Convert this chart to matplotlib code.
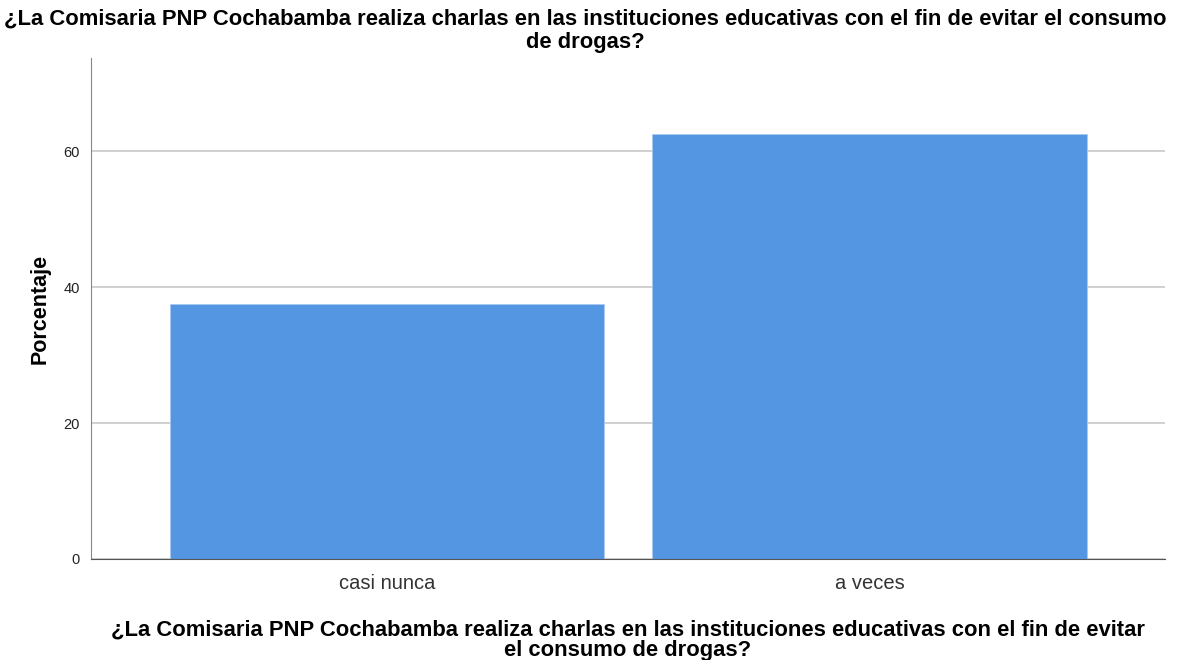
import matplotlib.pyplot as plt

# frequency table values (percent)
categories = ['casi nunca', 'a veces']
percent = [37.5, 62.5]
y_ticks = [0, 20, 40, 60]

question = ('¿La Comisaria PNP Cochabamba realiza charlas en las instituciones '
            'educativas con el fin de evitar el consumo\nde drogas?')
xlabel = ('¿La Comisaria PNP Cochabamba realiza charlas en las instituciones '
          'educativas con el fin de evitar\nel consumo de drogas?')

plt.rcParams['font.family'] = ['Liberation Sans', 'DejaVu Sans']

fig = plt.figure(figsize=(11.87, 6.6), dpi=100)
ax = fig.add_axes([91 / 1187, 1 - 559 / 660, (1165 - 91) / 1187, (559 - 58) / 660])

ax.bar(range(len(categories)), percent, width=0.9, color='#5596e3',
       edgecolor='#a9c9f0', linewidth=0.6, zorder=2)

ax.set_xlim(-0.613, 1.612)
ax.set_ylim(0, 73.7)
ax.set_yticks(y_ticks)
ax.set_xticks(range(len(categories)))
ax.set_xticklabels(categories, fontsize=14.5, color='#333333')
ax.tick_params(axis='y', length=0, labelsize=10.5, pad=8, colors='#222222')
ax.tick_params(axis='x', length=0, pad=11)
ax.grid(axis='y', color='#c8c8c8', linewidth=1.2, zorder=0)

for s in ['top', 'right']:
    ax.spines[s].set_visible(False)
ax.spines['left'].set_color('#888888')
ax.spines['bottom'].set_color('#555555')

ax.set_ylabel('Porcentaje', fontsize=15.5, fontweight='bold', labelpad=9)
ax.set_xlabel(xlabel, fontsize=15.8, fontweight='bold', labelpad=19, linespacing=0.95)
fig.text(0.493, 0.987, question, ha='center', va='top', fontsize=15.8,
         fontweight='bold', linespacing=1.15)

fig.savefig('out.png', dpi=100)
